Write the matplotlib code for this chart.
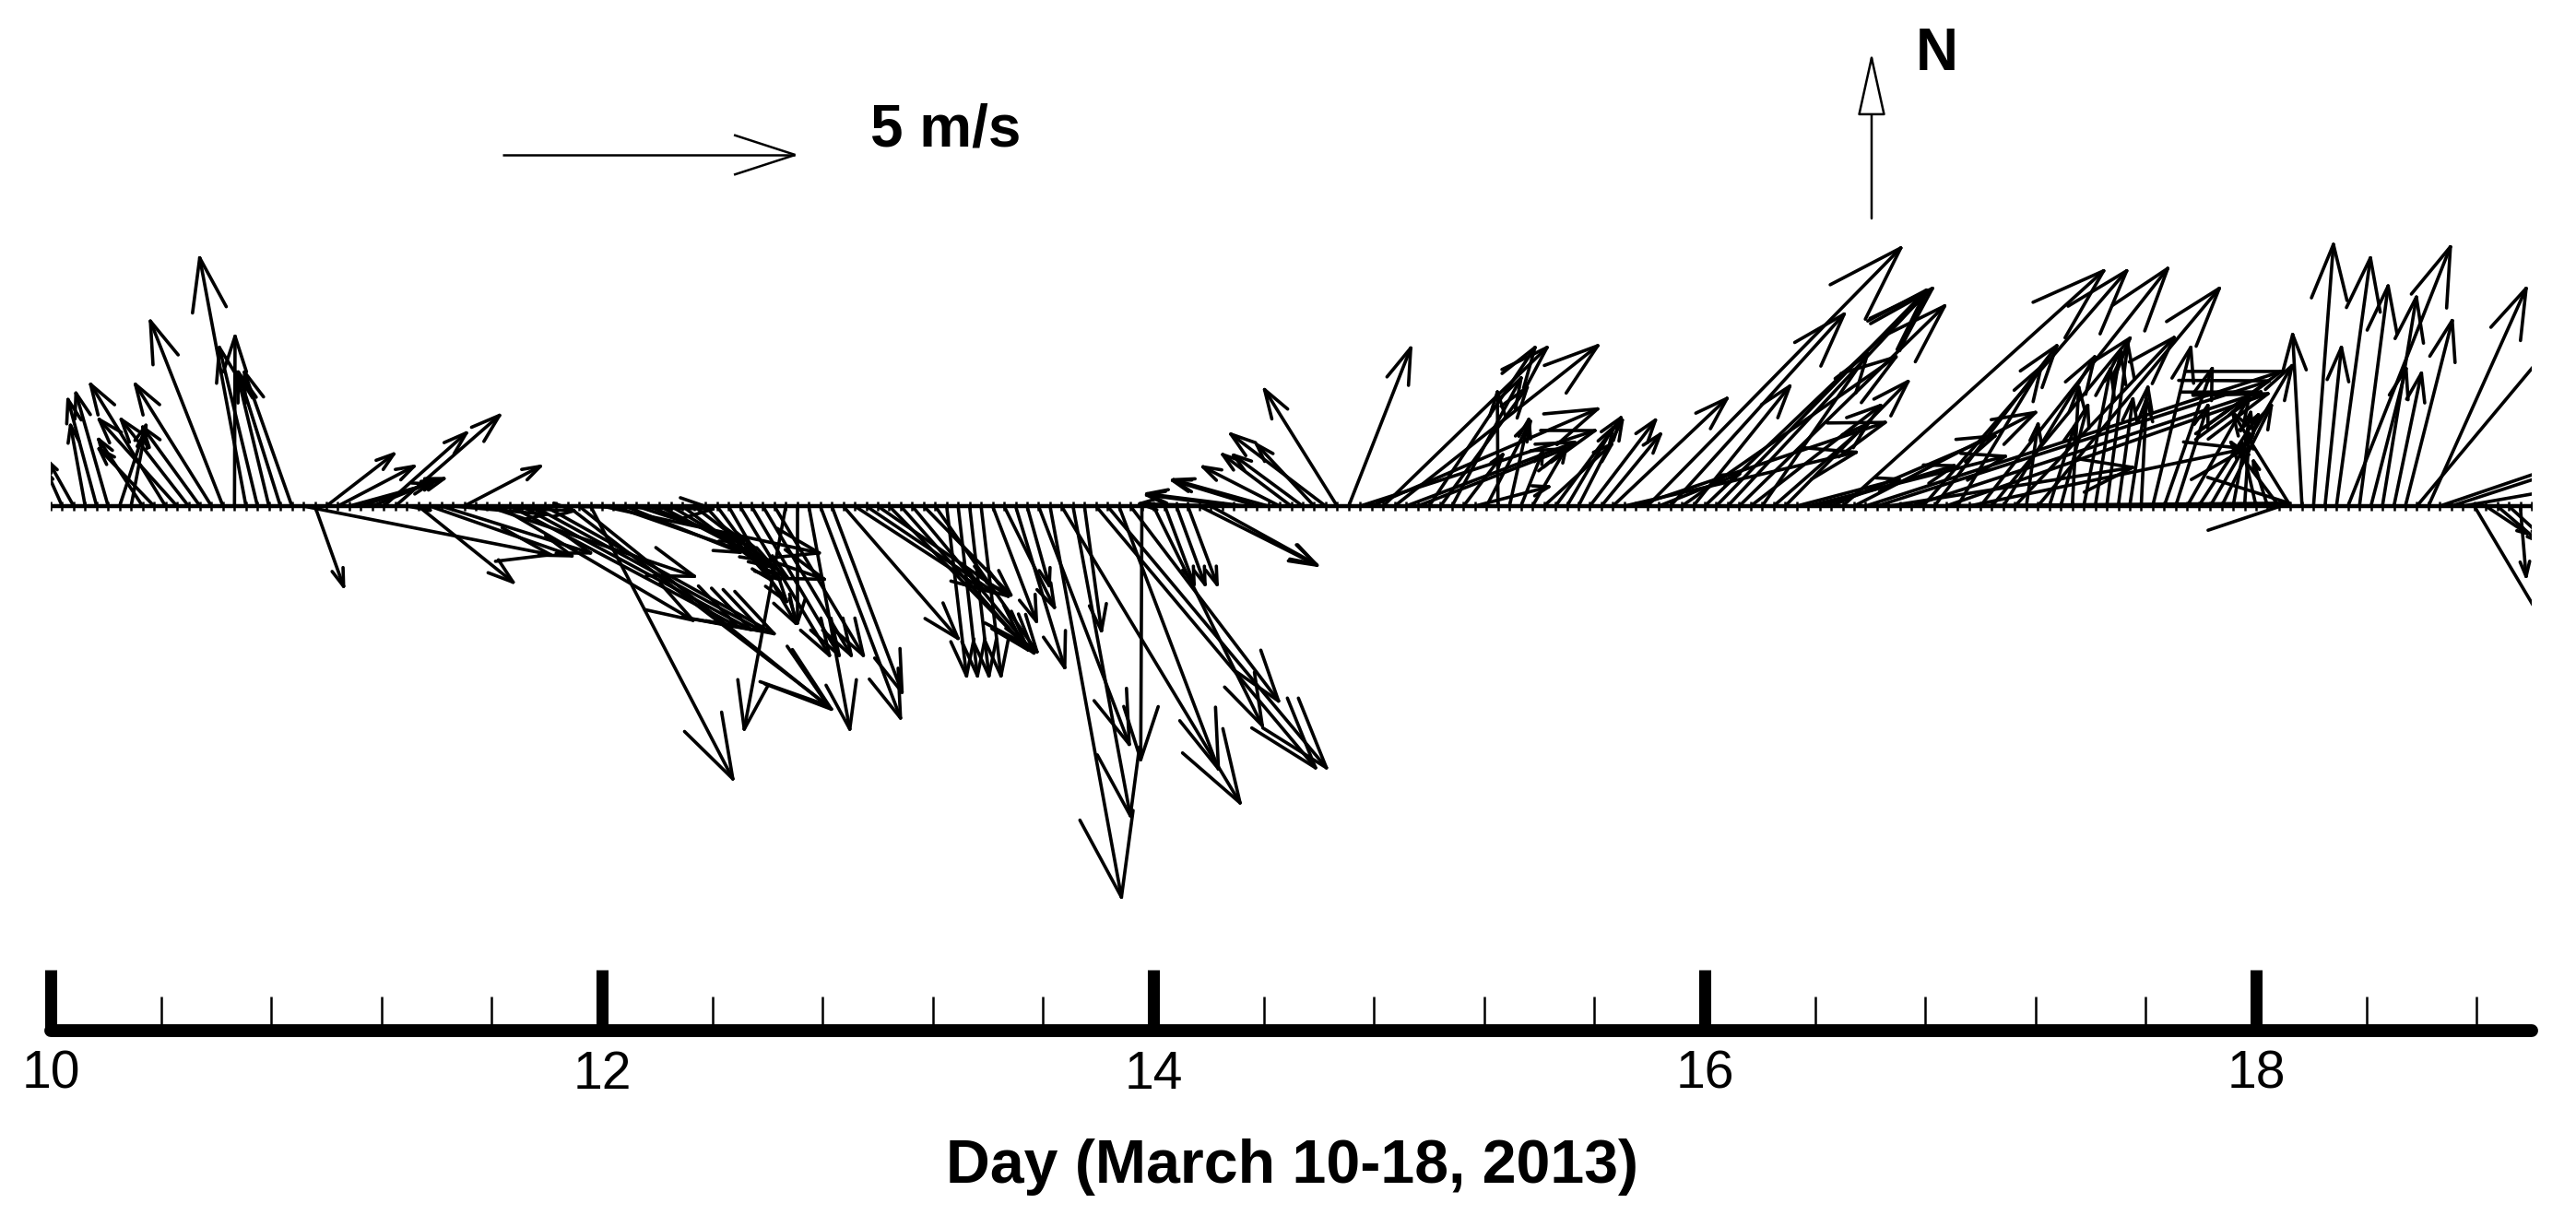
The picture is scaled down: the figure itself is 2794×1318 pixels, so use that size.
import numpy as np
import matplotlib
matplotlib.use('Agg')
import matplotlib.pyplot as plt
from matplotlib.collections import LineCollection

plt.rcParams['font.family'] = ['Liberation Sans', 'DejaVu Sans']

# hourly wind components in m/s
u = [-.24, -.25, -.42, -.25, -.49, -.55, .45, .24, -.75, -.94,
     -1.28, -1.33, -1.15, -.98, -1.30, -1.24, .01, -.79, -.65, -.55,
     -.72, -.81, 4.22, .49, 1.15, 1.30, 1.38, 1.42, 1.09, 1.41,
     1.78, .40, 1.62, 2.43, 2.55, 1.60, 1.30, 1.68, 3.54, 3.32,
     3.89, 3.92, 3.92, 3.92, 2.68, 4.45, 4.31, 2.43, 3.71, 3.60,
     1.97, 1.83, 1.85, 1.81, 1.76, 1.67, 1.59, 1.12, 1.19, 1.15,
     1.53, 1.50, 1.51, 1.52, -.71, 0, .70, 1.37, 1.20, 1.96,
     2.20, 2.21, 2.23, 2.27, 2.18, 2.08, 1.49, 1.74, .34, .33,
     .33, .34, .75, .86, .84, .38, 1.55, 1.22, 3.05, .98,
     .29, 3.75, 3.74, 1.70, 2.53, -.02, 1.86, .50, .49, .50,
     2.01, 1.79, -1.41, -1.49, -1.68, -1.44, -1.62, -1.31, -1.17, -1.18,
     -.98, -1.62, -1.24, 1.06, 4.01, 3.86, 2.80, 3.47, 2.88, 2.53,
     1.81, 1.48, 1.18, .67, 1.26, .75, -.01, .33, .37, .57,
     1.16, 1.12, .79, .75, 1.12, 1.01, 1.95, 3.96, 4.26, 4.33,
     1.38, 2.97, 3.66, 1.65, 3.89, 3.59, 3.40, 3.51, 2.22, 1.80,
     1.60, 2.10, 1.75, 3.37, 2.30, 2.80, 4.46, 3.10, 7.10, 6.70,
     4.17, 6.65, 5.97, 3.48, 2.09, 5.50, 1.43, 4.72, 3.20, 2.36,
     1.56, 2.72, .20, 3.10, .43, .46, .11, .46, .43, .36,
     .25, .31, .09, .65, .82, .55, 1.06, 1.02, 1.40, .85,
     .30, .08, -.25, -.24, -.82, -.99, -.16, .34, .28, .58,
     1.75, .49, .60, .58, .47, .80, 2.83, 1.67, 2.50, 2.30,
     2.00, 1.60, .71, .70, .60, .10, .20]
v = [.25, .56, .75, 1.38, 1.82, 1.93, 1.38, 1.27, 1.14, .98,
     2.08, 1.48, 1.48, 1.35, 2.08, 3.16, 2.90, 4.24, 2.71, 2.29,
     2.29, 2.29, -.83, -1.37, .89, .68, .38, .47, .44, 1.25,
     1.55, -.07, -1.30, -.85, -.80, -.14, .68, -.08, -1.20, -1.95,
     -2.06, -2.11, -2.14, -2.18, -.05, -3.41, -3.47, -4.66, -.80, -1.25,
     -.79, -.60, -.73, -.94, -1.05, -1.26, -1.21, -1.26, -1.63, -2.00,
     -2.55, -2.55, -2.55, -2.55, -3.81, -2.00, -3.81, -3.62, -3.18, -2.26,
     -1.43, -1.49, -1.54, -2.33, -2.46, -2.51, -1.52, -2.49, -2.90, -2.90,
     -2.90, -2.90, -1.97, -1.73, -2.76, -1.36, -4.07, -6.68, -5.07, -5.29,
     -2.13, -4.47, -4.47, -4.49, -3.33, -4.33, -3.75, -1.34, -1.34, -1.34,
     -1.01, -.99, .04, .19, .21, .44, .45, .67, .88, .87,
     1.05, 1.23, 1.99, 2.70, 1.29, 1.66, 2.71, 2.74, 1.09, .98,
     2.71, 2.03, 2.19, .88, .33, 1.45, 1.95, 1.48, .93, .98,
     1.06, 1.51, 1.34, 1.47, 1.47, 1.23, 1.84, .92, 1.43, 4.41,
     .55, 3.28, 2.55, 2.05, 3.72, 3.69, 3.65, 3.42, 1.72, 2.60,
     1.40, 2.13, .46, .85, .69, 1.20, 4.02, 1.60, 2.30, 2.14,
     .66, .05, 1.95, 4.02, 2.74, 1.92, 2.38, .98, 4.06, 2.87,
     2.55, 2.88, 1.40, 3.72, 1.37, 1.72, 2.03, 2.35, 2.66, 2.77,
     1.83, 2.03, 1.83, 2.71, 2.35, 1.72, 1.87, 1.56, 2.40, 1.72,
     1.60, 1.24, 1.09, .77, 1.09, 1.60, 2.93, 4.47, 2.71, 4.24,
     4.43, 3.76, 2.35, 3.57, 2.27, 3.17, 3.39, 3.72, .85, .75,
     .35, -2.70, -.47, -.60, -.55, -1.20, -.30]
major_days = [10, 12, 14, 16, 18]
minor_days = [10.4, 10.8, 11.2, 11.6, 12.4, 12.8, 13.2, 13.6, 14.4, 14.8, 15.2, 15.6,
              16.4, 16.8, 17.2, 17.6, 18.4, 18.8]

W, H = 2794, 1318
LEFT, RIGHT = 55, 2746
BASE_Y = 549
PX_PER_MS = 63.5
PX_PER_DAY = (RIGHT - LEFT) / 9
DAY_PER_MS = PX_PER_MS / PX_PER_DAY

t = 10 + np.arange(len(u)) / 24


def arrow_segments(x0, y0, du, dv, frac=0.22, ang=np.radians(18)):
    # stem and two barbs; barbs are rotated in m/s space so angles stay true
    segs = [[(x0, y0), (x0 + du * DAY_PER_MS, y0 + dv)]]
    for a in (ang, -ang):
        bu = -frac * (du * np.cos(a) - dv * np.sin(a))
        bv = -frac * (du * np.sin(a) + dv * np.cos(a))
        tip = (x0 + du * DAY_PER_MS, y0 + dv)
        segs.append([tip, (tip[0] + bu * DAY_PER_MS, tip[1] + bv)])
    return segs


fig = plt.figure(figsize=(W / 100, H / 100), dpi=100, facecolor='white')

# arrows: axes covers the full height, so 1 m/s is the same on both directions
ax = fig.add_axes([LEFT / W, 0, (RIGHT - LEFT) / W, 1])
ax.set_xlim(10, 19)
ax.set_ylim((BASE_Y - H) / PX_PER_MS, BASE_Y / PX_PER_MS)
ax.axis('off')

segs = []
for ti, ui, vi in zip(t, u, v):
    segs += arrow_segments(ti, 0, ui, vi)
ax.add_collection(LineCollection(segs, colors='black', linewidths=2.6, capstyle='round'))
ax.axhline(0, color='black', lw=3.2)
ax.plot(t, np.zeros(len(t)), ls='', marker='|', ms=6.5, mew=1.8, color='black')

# 5 m/s reference arrow
ref_t = 10 + (545 - LEFT) / PX_PER_DAY
ref_v = (BASE_Y - 168) / PX_PER_MS
ax.add_collection(LineCollection(arrow_segments(ref_t, ref_v, 5, 0), colors='black', linewidths=1.8))
fig.text(944 / W, 1 - 142 / H, '5 m/s', fontsize=46, fontweight='bold', va='center', ha='left')

# north arrow
ax.annotate('', xy=(2030, H - 57), xytext=(2030, H - 237), xycoords='figure pixels',
            textcoords='figure pixels',
            arrowprops=dict(arrowstyle='-|>,head_length=44,head_width=9.7', mutation_scale=1,
                            fc='white', ec='black', lw=1.8, shrinkA=0, shrinkB=0))
fig.text(2078 / W, 1 - 59 / H, 'N', fontsize=46, fontweight='bold', va='center', ha='left')

# time scale
ax2 = fig.add_axes([LEFT / W, 1 - 1118 / H, (RIGHT - LEFT) / W, 0.01])
ax2.patch.set_visible(False)
ax2.set_yticks([])
for side in ('top', 'left', 'right'):
    ax2.spines[side].set_visible(False)
ax2.spines['bottom'].set_linewidth(10)
ax2.spines['bottom'].set_capstyle('round')
ax2.set_xticks(major_days)
ax2.set_xticks(minor_days, minor=True)
ax2.set_xlim(10, 19)
ax2.tick_params(axis='x', which='major', direction='in', length=47.5, width=9.4, labelsize=41, pad=15)
ax2.tick_params(axis='x', which='minor', direction='in', length=27, width=1.8)
fig.text(1401.5 / W, 1 - 1266 / H, 'Day (March 10-18, 2013)', fontsize=47.7,
         fontweight='bold', ha='center', va='center')

assert len(u) == len(v) == 217
fig.savefig('out.png', dpi=100, facecolor='white')
